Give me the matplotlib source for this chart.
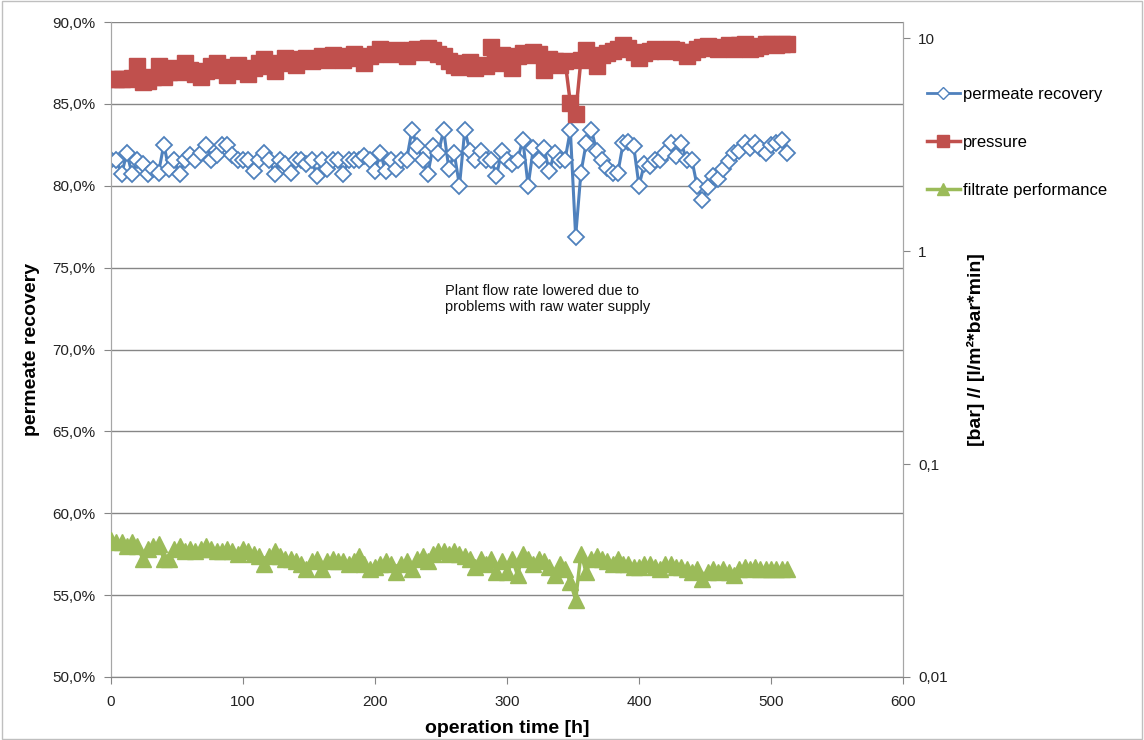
import numpy as np
import matplotlib
matplotlib.use("Agg")
import matplotlib.pyplot as plt
from matplotlib.ticker import FixedLocator, FuncFormatter, NullLocator
from matplotlib.lines import Line2D

# ─── Data (4 h steps) ──────────────────────────────────────────────────────────
time_h = list(range(0, 513, 4))

permeate_recovery = [
    81.6, 81.6, 80.7, 82.0, 80.7, 81.6, 81.3, 80.7, 81.0, 80.8,
    82.5, 81.0, 81.6, 80.7, 81.6, 81.9, 81.6, 82.0, 82.5, 81.6,
    81.9, 82.5, 82.5, 81.9, 81.6, 81.6, 81.6, 80.9, 81.6, 82.0,
    81.6, 80.7, 81.6, 81.3, 80.8, 81.6, 81.6, 81.3, 81.6, 80.6,
    81.6, 81.0, 81.6, 81.6, 80.7, 81.6, 81.6, 81.6, 81.8, 81.6,
    80.9, 82.0, 80.9, 81.6, 81.0, 81.6, 81.6, 83.4, 82.4, 81.6,
    80.7, 82.4, 82.0, 83.4, 81.0, 82.0, 80.0, 83.4, 82.1, 81.6,
    82.1, 81.6, 81.6, 80.6, 82.1, 81.6, 81.3, 81.6, 82.8, 80.0,
    82.3, 81.6, 82.3, 80.9, 82.0, 81.6, 81.6, 83.4, 76.9, 80.8,
    82.6, 83.4, 82.1, 81.6, 81.1, 80.8, 80.8, 82.6, 82.7, 82.4,
    80.0, 81.3, 81.2, 81.6, 81.6, 82.0, 82.6, 81.8, 82.6, 81.6,
    81.6, 80.0, 79.1, 79.9, 80.6, 80.4, 81.0, 81.5, 82.0, 82.1,
    82.6, 82.3, 82.6, 82.3, 82.0, 82.5, 82.6, 82.8, 82.0,
]

pressure_bar = [
    6.4, 6.4, 6.4, 6.4, 6.5, 7.4, 6.2, 6.3, 6.6, 7.4,
    6.6, 6.9, 7.2, 6.9, 7.6, 7.1, 6.8, 6.6, 7.0, 7.4,
    7.6, 7.1, 6.7, 7.3, 7.5, 7.0, 6.8, 7.2, 7.6, 8.0,
    7.4, 7.0, 7.6, 8.1, 7.7, 7.5, 8.0, 8.1, 7.8, 8.0,
    8.2, 7.9, 8.3, 8.1, 7.9, 8.2, 8.4, 8.1, 7.6, 8.2,
    8.4, 8.9, 8.6, 8.4, 8.8, 8.6, 8.2, 8.8, 8.9, 8.6,
    9.0, 8.8, 8.4, 8.2, 7.8, 7.5, 7.3, 7.6, 7.7, 7.2,
    7.5, 7.4, 9.1, 7.6, 8.3, 8.0, 7.2, 8.2, 8.5, 8.3,
    8.6, 8.4, 7.1, 8.0, 7.8, 7.5, 7.8, 4.95, 4.4, 7.9,
    8.8, 8.2, 7.4, 8.3, 8.5, 8.7, 8.9, 9.3, 9.0, 8.6,
    8.1, 8.5, 8.7, 8.9, 8.8, 8.7, 8.9, 8.8, 8.6, 8.2,
    8.6, 8.9, 9.1, 9.2, 9.0, 8.9, 9.1, 9.3, 8.9, 9.3,
    9.4, 8.9, 9.0, 9.2, 9.4, 9.4, 9.3, 9.4, 9.4,
]

filtrate_performance = [
    0.044, 0.043, 0.043, 0.041, 0.043, 0.041, 0.036, 0.040, 0.041, 0.042,
    0.036, 0.036, 0.040, 0.041, 0.039, 0.040, 0.039, 0.040, 0.041, 0.040,
    0.039, 0.039, 0.040, 0.039, 0.038, 0.040, 0.039, 0.038, 0.037, 0.034,
    0.037, 0.039, 0.037, 0.036, 0.036, 0.035, 0.034, 0.032, 0.035, 0.036,
    0.032, 0.035, 0.036, 0.035, 0.035, 0.034, 0.035, 0.037, 0.034, 0.032,
    0.033, 0.034, 0.035, 0.034, 0.031, 0.034, 0.035, 0.032, 0.036, 0.037,
    0.035, 0.038, 0.039, 0.039, 0.038, 0.039, 0.038, 0.037, 0.036, 0.033,
    0.036, 0.034, 0.036, 0.031, 0.035, 0.031, 0.036, 0.030, 0.038, 0.036,
    0.034, 0.036, 0.035, 0.033, 0.030, 0.034, 0.032, 0.028, 0.023, 0.038,
    0.031, 0.036, 0.037, 0.036, 0.035, 0.034, 0.036, 0.034, 0.034, 0.033,
    0.033, 0.034, 0.034, 0.033, 0.032, 0.034, 0.034, 0.033, 0.033, 0.032,
    0.031, 0.032, 0.029, 0.031, 0.032, 0.031, 0.032, 0.031, 0.030, 0.032,
    0.033, 0.032, 0.033, 0.032, 0.032, 0.032, 0.032, 0.032, 0.032,
]

left_ticks = [50, 55, 60, 65, 70, 75, 80, 85, 90]
right_ticks = [0.01, 0.1, 1, 10]
right_labels = ["0,01", "0,1", "1", "10"]
x_ticks = [0, 100, 200, 300, 400, 500, 600]

note = "Plant flow rate lowered due to\nproblems with raw water supply"

# ─── Style ─────────────────────────────────────────────────────────────────────
plt.rcParams['font.family'] = ['Liberation Sans', 'DejaVu Sans']
BLUE, RED, GREEN = '#4F81BD', '#C0504D', '#9BBB59'
GRID = '#868686'
SPINE = '#A6A6A6'

fig = plt.figure(figsize=(11.44, 7.40), dpi=100)
ax = fig.add_axes([111 / 1144, 1 - 677 / 740, (903 - 111) / 1144, (677 - 22) / 740])
ax2 = ax.twinx()

# permeate recovery on the left axis
ax.plot(time_h, permeate_recovery, color=BLUE, lw=2.2, marker='D', ms=8,
        mfc='white', mec=BLUE, mew=1.3, zorder=3)

# pressure + filtrate performance on the right log axis
ax2.plot(time_h, pressure_bar, color=RED, lw=2.5, marker='s', ms=11,
         mfc=RED, mec=RED, zorder=3)
ax2.plot(time_h, filtrate_performance, color=GREEN, lw=2.5, marker='^', ms=11,
         mfc=GREEN, mec=GREEN, zorder=3)

# ─── Axes ──────────────────────────────────────────────────────────────────────
ax.set_xlim(0, 600)
ax.set_ylim(50, 90)
ax.yaxis.set_major_locator(FixedLocator(left_ticks))
ax.yaxis.set_major_formatter(FuncFormatter(lambda v, p: f"{v:.1f}%".replace('.', ',')))
ax.xaxis.set_major_locator(FixedLocator(x_ticks))
ax.grid(axis='y', color=GRID, lw=1)
ax.set_axisbelow(True)

ax2.set_yscale('log')
ax2.set_ylim(0.01, 11.9)
ax2.yaxis.set_major_locator(FixedLocator(right_ticks))
ax2.yaxis.set_major_formatter(FuncFormatter(lambda v, p: right_labels[right_ticks.index(v)] if v in right_ticks else ""))
ax2.yaxis.set_minor_locator(NullLocator())

for a in (ax, ax2):
    a.spines['top'].set_visible(False)
    a.spines['left'].set_color(SPINE)
    a.spines['right'].set_color(SPINE)
    a.spines['bottom'].set_color(GRID)
    a.tick_params(axis='both', direction='out', length=5, color=GRID,
                  labelsize=11, labelcolor='#222222')
ax.tick_params(axis='x', pad=8)
ax.tick_params(axis='y', pad=6)
ax2.tick_params(axis='y', pad=6)

ax.set_xlabel("operation time [h]", fontsize=14, fontweight='bold', labelpad=8)
ax.set_ylabel("permeate recovery", fontsize=14, fontweight='bold', labelpad=9)
ax2.set_ylabel("[bar] // [l/m²*bar*min]", fontsize=14, fontweight='bold', labelpad=14,
               rotation=90)

ax.text(253, 74.0, note, fontsize=10.5, ha='left', va='top', color='#111111')

# ─── Legend ────────────────────────────────────────────────────────────────────
handles = [
    Line2D([], [], color=BLUE, lw=2, marker='D', ms=6, mfc='white', mec=BLUE),
    Line2D([], [], color=RED, lw=2.5, marker='s', ms=8, mfc=RED, mec=RED),
    Line2D([], [], color=GREEN, lw=2.5, marker='^', ms=8, mfc=GREEN, mec=GREEN),
]
fig.legend(handles, ["permeate recovery", "pressure", "filtrate performance"],
           loc='upper left', bbox_to_anchor=(920 / 1144, 1 - 80 / 740),
           frameon=False, fontsize=12, labelspacing=2.0, handlelength=2.0,
           handletextpad=0.2, borderaxespad=0)

fig.patches.append(plt.Rectangle((0.002, 0.002), 0.996, 0.996, transform=fig.transFigure,
                                 fill=False, ec='#BFBFBF', lw=1))

fig.savefig("out.png", dpi=100)
